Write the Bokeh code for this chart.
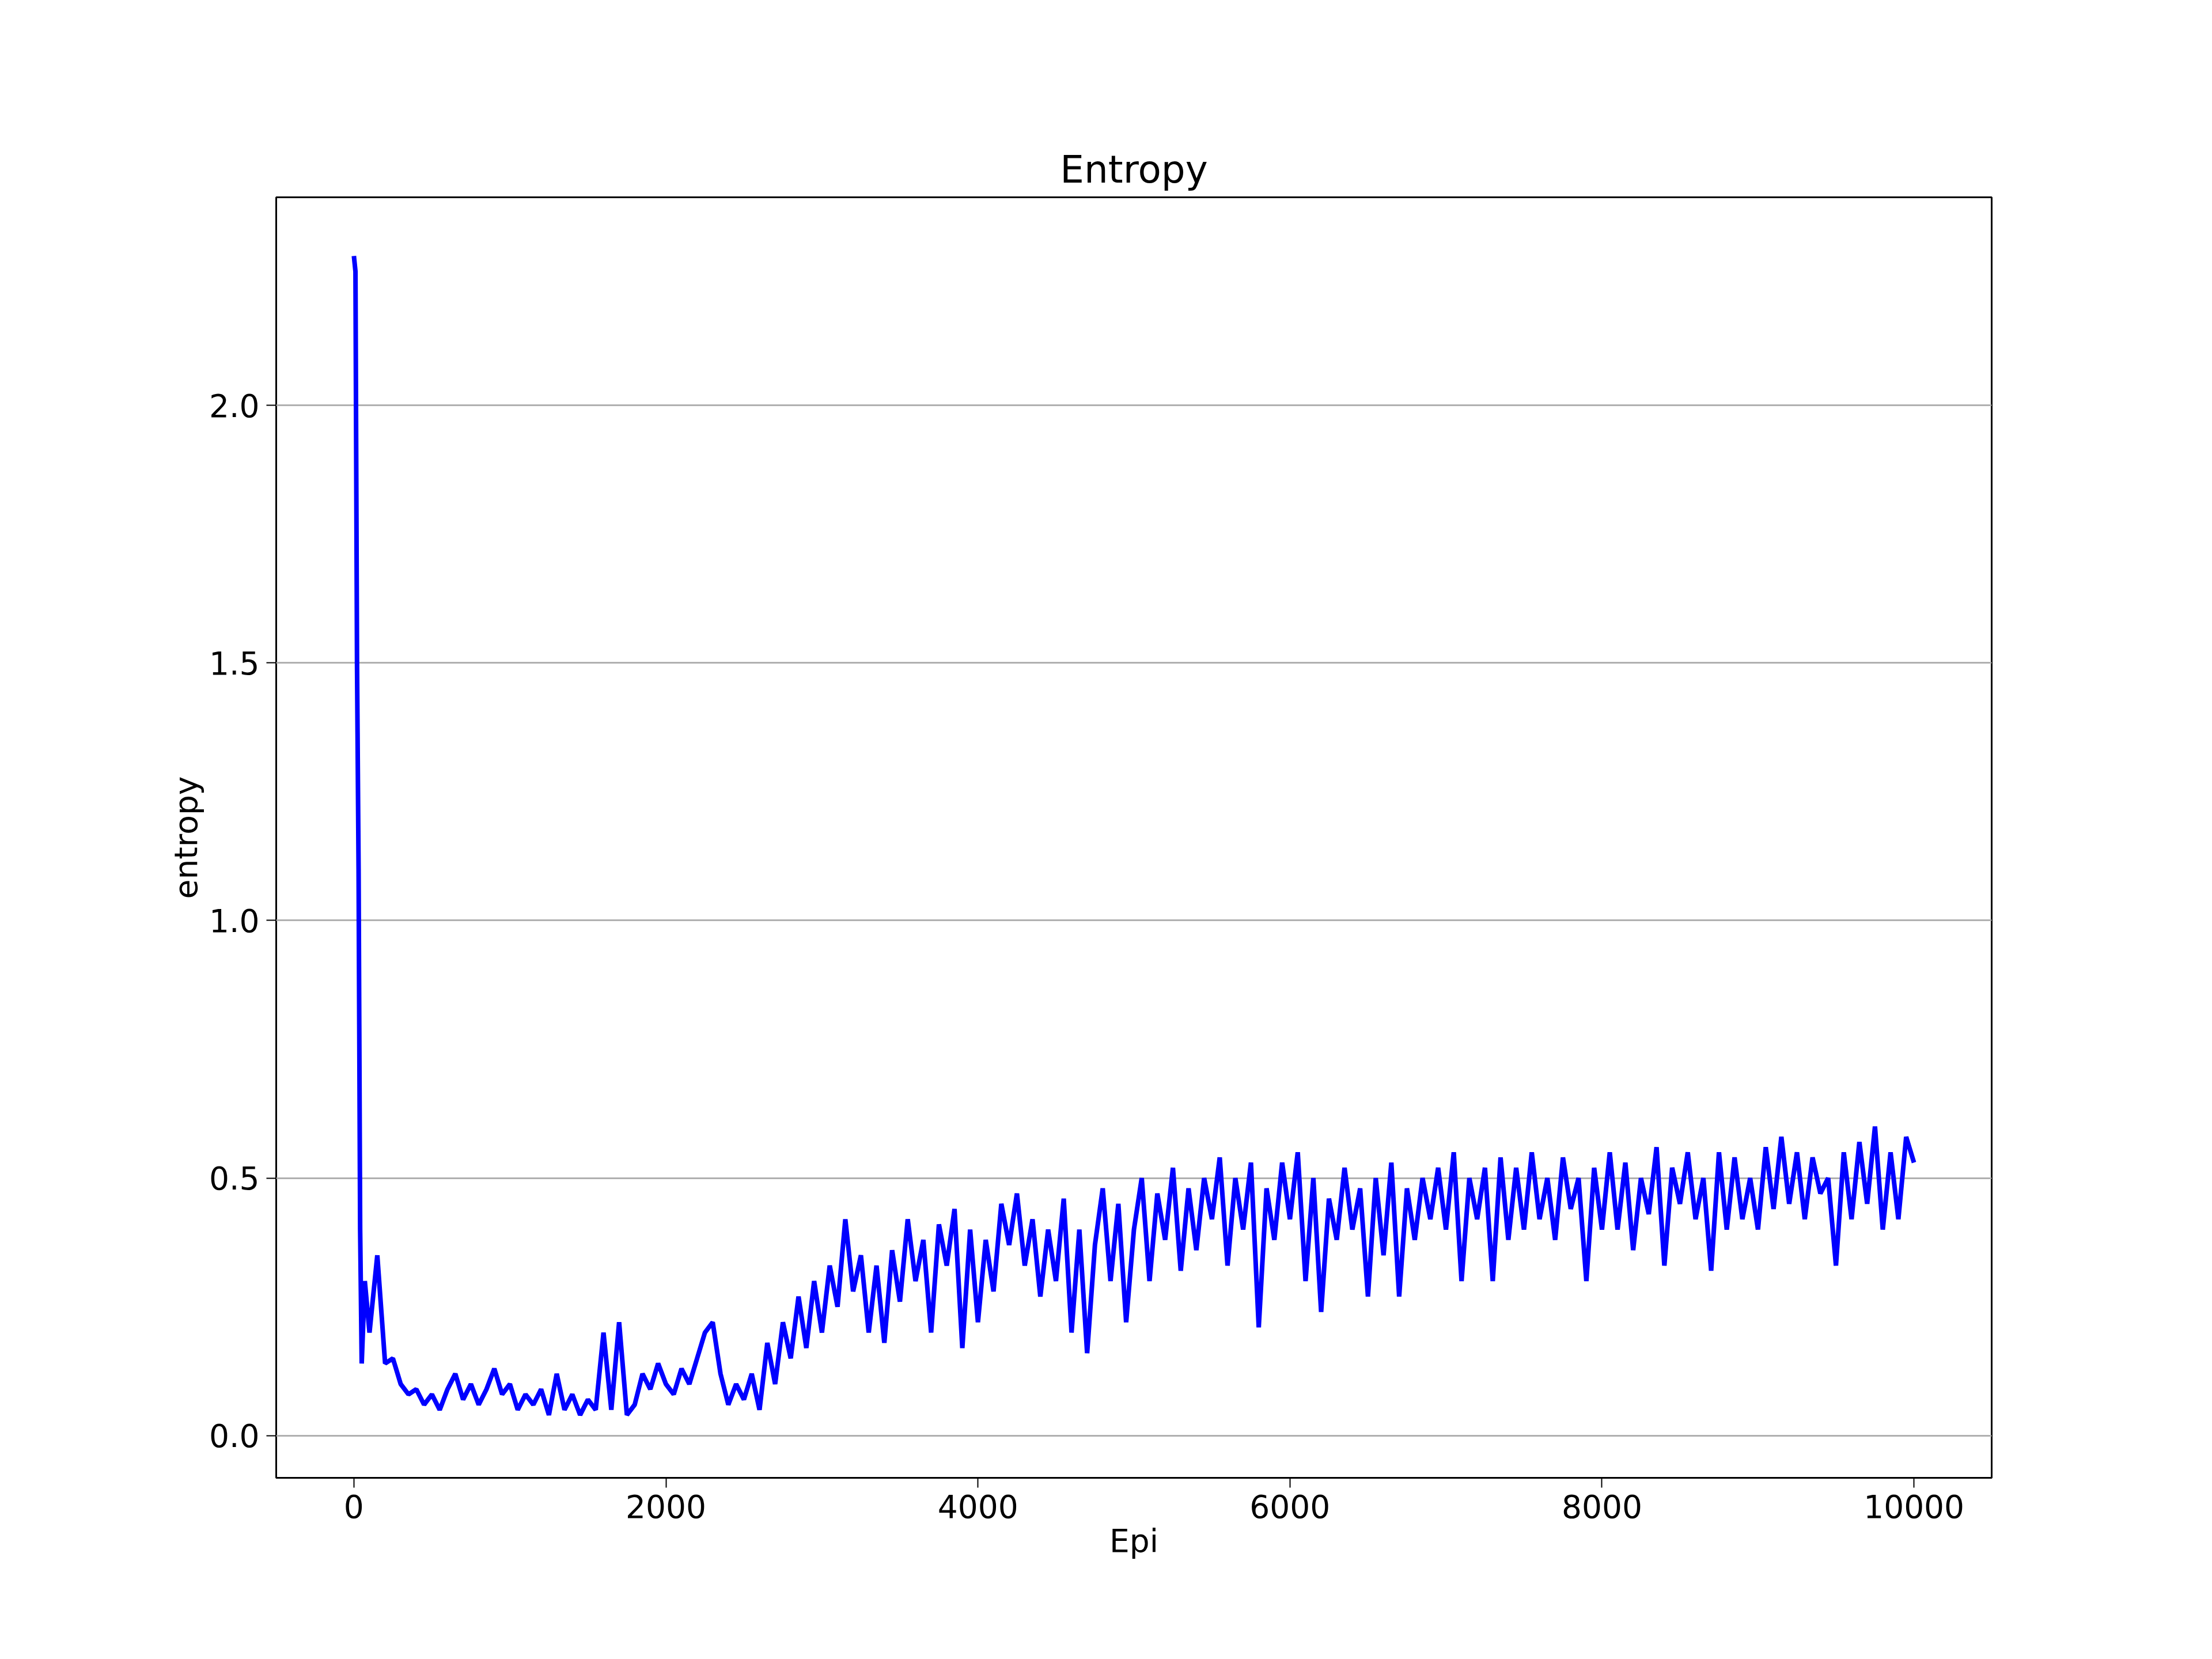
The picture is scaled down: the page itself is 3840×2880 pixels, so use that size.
from bokeh.plotting import figure
from bokeh.models import Range1d, FixedTicker, NumeralTickFormatter
from bokeh.embed import file_html
from bokeh.resources import INLINE

early_x = [0, 10, 20, 30, 40, 50, 70]
early_y = [2.29, 2.26, 1.5, 1.1, 0.4, 0.14, 0.3]

later_y = [
    0.2, 0.35, 0.14, 0.15, 0.1, 0.08, 0.09,
    0.06, 0.08, 0.05, 0.09, 0.12, 0.07, 0.1, 0.06, 0.09, 0.13, 0.08, 0.1,
    0.05, 0.08, 0.06, 0.09, 0.04, 0.12, 0.05, 0.08, 0.04, 0.07,
    0.05, 0.2, 0.05, 0.22, 0.04, 0.06, 0.12, 0.09, 0.14, 0.1,
    0.08, 0.13, 0.1, 0.15, 0.2, 0.22, 0.12, 0.06, 0.1, 0.07,
    0.12, 0.05, 0.18, 0.1, 0.22, 0.15, 0.27, 0.17, 0.3, 0.2,
    0.33, 0.25, 0.42, 0.28, 0.35, 0.2, 0.33, 0.18, 0.36, 0.26,
    0.42, 0.3, 0.38, 0.2, 0.41, 0.33, 0.44, 0.17, 0.4, 0.22,
    0.38, 0.28, 0.45, 0.37, 0.47, 0.33, 0.42, 0.27, 0.4, 0.3,
    0.46, 0.2, 0.4, 0.16, 0.37, 0.48, 0.3, 0.45, 0.22, 0.4,
    0.5, 0.3, 0.47, 0.38, 0.52, 0.32, 0.48, 0.36, 0.5, 0.42,
    0.54, 0.33, 0.5, 0.4, 0.53, 0.21, 0.48, 0.38, 0.53, 0.42,
    0.55, 0.3, 0.5, 0.24, 0.46, 0.38, 0.52, 0.4, 0.48, 0.27,
    0.5, 0.35, 0.53, 0.27, 0.48, 0.38, 0.5, 0.42, 0.52, 0.4,
    0.55, 0.3, 0.5, 0.42, 0.52, 0.3, 0.54, 0.38, 0.52, 0.4,
    0.55, 0.42, 0.5, 0.38, 0.54, 0.44, 0.5, 0.3, 0.52, 0.4,
    0.55, 0.4, 0.53, 0.36, 0.5, 0.43, 0.56, 0.33, 0.52, 0.45,
    0.55, 0.42, 0.5, 0.32, 0.55, 0.4, 0.54, 0.42, 0.5, 0.4,
    0.56, 0.44, 0.58, 0.45, 0.55, 0.42, 0.54, 0.47, 0.5, 0.33,
    0.55, 0.42, 0.57, 0.45, 0.6, 0.4, 0.55, 0.42, 0.58, 0.53,
]
later_x = list(range(100, 10001, 50))

x = early_x + later_x
y = early_y + later_y

p = figure(width=3824, height=2864, output_backend="svg", toolbar_location=None,
           x_range=Range1d(-498, 10498), y_range=Range1d(-0.082, 2.404),
           title="Entropy", x_axis_label="Epi", y_axis_label="entropy",
           min_border_left=479, min_border_right=367, min_border_top=342, min_border_bottom=299)

p.line(x, y, line_color="blue", line_width=8)

font = "DejaVu Sans"
p.title.text_font = font
p.title.text_font_size = "66px"
p.title.text_font_style = "normal"
p.title.text_color = "black"
p.title.align = "center"
p.title.offset = 0
p.title.standoff = 20

p.xaxis.ticker = FixedTicker(ticks=[0, 2000, 4000, 6000, 8000, 10000])
p.yaxis.ticker = FixedTicker(ticks=[0.0, 0.5, 1.0, 1.5, 2.0])
p.yaxis.formatter = NumeralTickFormatter(format="0.0")
for ax in (p.xaxis, p.yaxis):
    ax.major_label_text_font = font
    ax.major_label_text_font_size = "55px"
    ax.major_label_text_color = "black"
    ax.axis_label_text_font = font
    ax.axis_label_text_font_size = "55px"
    ax.axis_label_text_font_style = "normal"
    ax.axis_label_text_color = "black"
    ax.minor_tick_line_color = None
    ax.major_tick_out = 17
    ax.major_tick_in = 0
    ax.major_tick_line_width = 2
    ax.axis_line_color = None
    ax.major_label_standoff = 12

p.xgrid.grid_line_color = None
p.ygrid.grid_line_color = "#b0b0b0"
p.ygrid.grid_line_width = 3
p.outline_line_color = "black"
p.outline_line_width = 3
p.background_fill_color = "white"

open("out.html", "w").write(file_html(p, INLINE))
